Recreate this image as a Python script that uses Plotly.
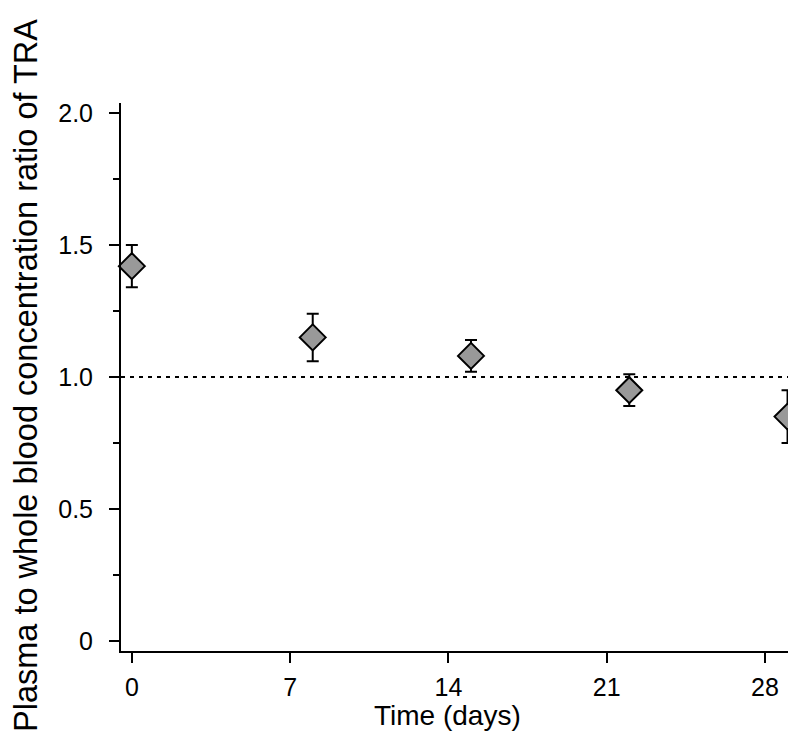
import plotly.graph_objects as go

# Data
days = [0, 8, 15, 22, 29]
ratio = [1.42, 1.15, 1.08, 0.95, 0.85]
ratio_err = [0.08, 0.09, 0.06, 0.06, 0.10]

x_ticks = [0, 7, 14, 21, 28]
y_ticks = [0, 0.5, 1.0, 1.5, 2.0]
y_ticktext = ["0", "0.5", "1.0", "1.5", "2.0"]
reference_ratio = 1.0

FONT = "Liberation Sans, Arial, Helvetica, sans-serif"

fig = go.Figure()
fig.add_trace(go.Scatter(
    x=days, y=ratio, mode="markers",
    marker=dict(symbol="diamond", size=20, color="#999999",
                line=dict(color="black", width=2)),
    error_y=dict(type="data", array=ratio_err, visible=True,
                 color="black", thickness=2, width=6),
    showlegend=False, cliponaxis=False,
))

fig.add_shape(type="line", xref="paper", yref="y", x0=0, x1=1,
              y0=reference_ratio, y1=reference_ratio,
              line=dict(color="black", width=2, dash="4px,5px"), layer="below")

fig.update_layout(
    width=796, height=744,
    margin=dict(l=113, r=9, t=95, b=101),
    plot_bgcolor="white", paper_bgcolor="white",
    font=dict(family=FONT, color="black"),
    xaxis=dict(range=[-0.48, 29.33], tickvals=x_ticks, ticks="outside",
               ticklen=10, tickwidth=2, tickcolor="black",
               showline=True, linewidth=2, linecolor="black",
               showgrid=False, zeroline=False,
               tickfont=dict(size=25, family=FONT), ticklabelstandoff=3),
    yaxis=dict(range=[-0.038, 2.038], tickvals=y_ticks, ticktext=y_ticktext,
               ticks="outside", ticklen=10, tickwidth=2, tickcolor="black",
               showline=True, linewidth=2, linecolor="black",
               showgrid=False, zeroline=False,
               tickfont=dict(size=25, family=FONT), ticklabelstandoff=11,
               minor=dict(tick0=0, dtick=0.25, ticks="outside", ticklen=6,
                          tickwidth=2, tickcolor="black", showgrid=False)),
    annotations=[
        dict(text="Plasma to whole blood concentration ratio of TRA",
             xref="paper", yref="paper", x=0, y=0.5, xshift=-95, yshift=1,
             xanchor="center", yanchor="middle", textangle=-90,
             showarrow=False, font=dict(size=32.5, family=FONT)),
        dict(text="Time (days)", xref="paper", yref="paper", x=0.5, y=0,
             xshift=-11, yshift=-64, xanchor="center", yanchor="middle",
             showarrow=False, font=dict(size=28, family=FONT)),
    ],
)

fig.write_html("out.html")
